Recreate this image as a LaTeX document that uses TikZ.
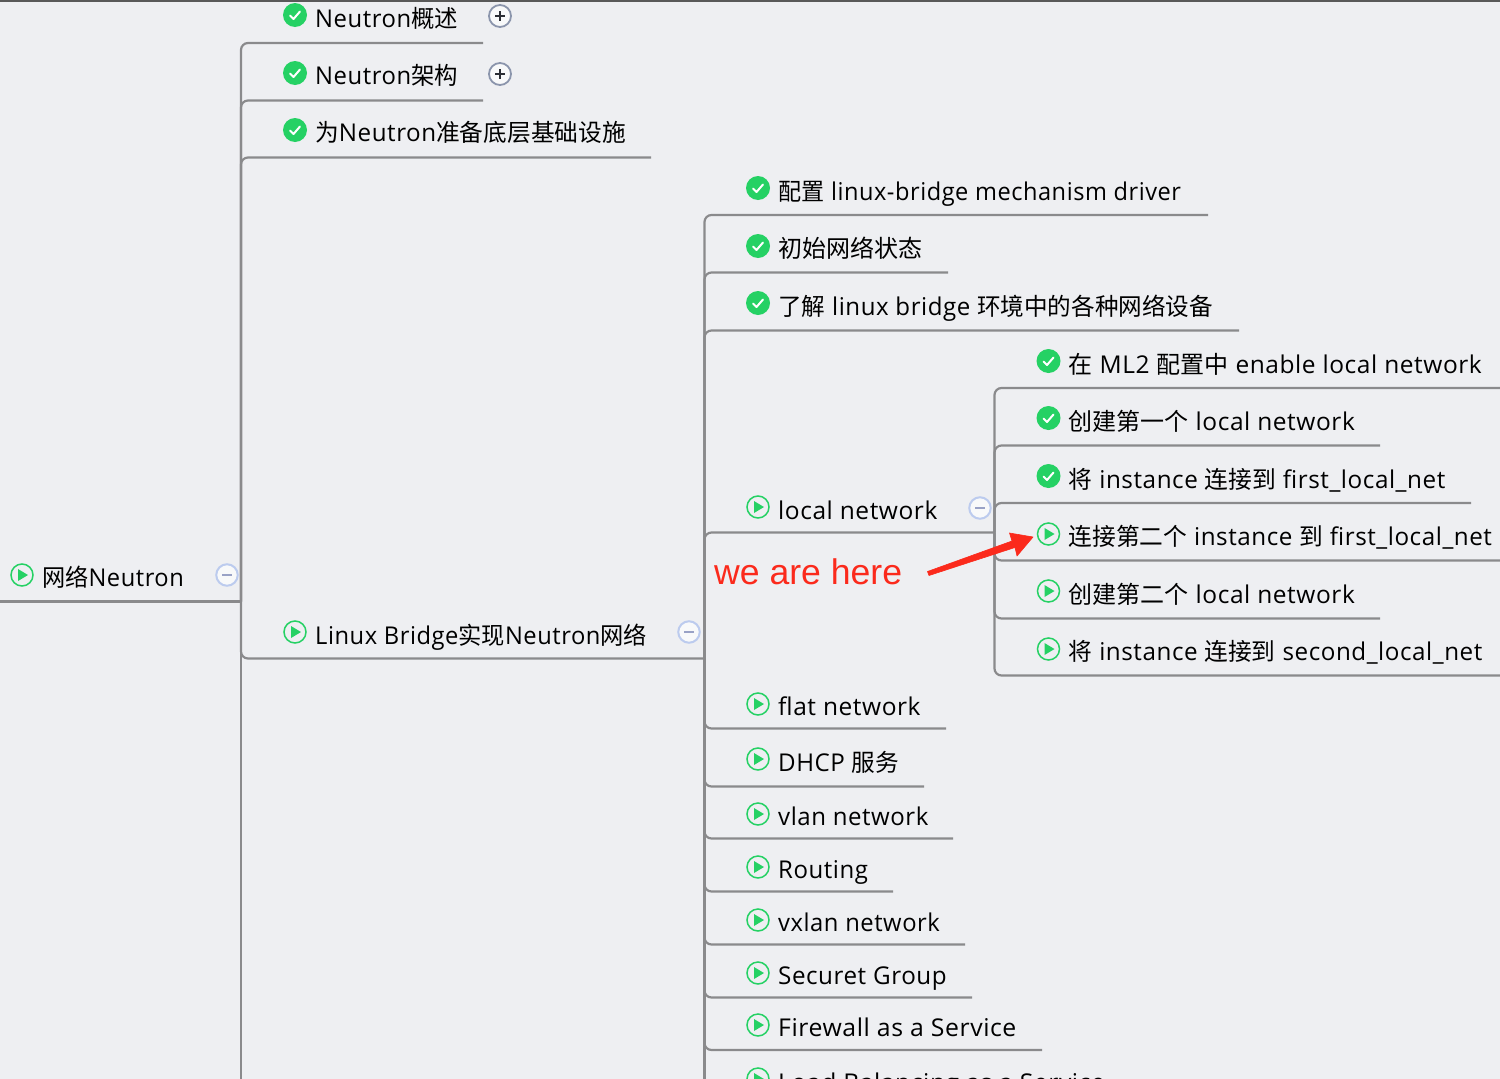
\documentclass[tikz,border=0pt]{standalone}
\usepackage{fontspec}
\setmainfont[LetterSpace=2.3]{Open Sans}
\newfontfamily\cjk[Scale=0.98]{Noto Sans CJK SC}
\newfontfamily\redfont{Liberation Sans}
\newcommand{\zh}[1]{{\cjk #1}}
\newcommand{\hs}[2]{\scalebox{#1}[1]{#2}}
\definecolor{bgc}{HTML}{EEEFF2}
\definecolor{linec}{HTML}{8A8A8C}
\definecolor{okc}{HTML}{25D164}
\definecolor{plusc}{HTML}{8B95AC}
\definecolor{minusc}{HTML}{BCCBEE}
\definecolor{minusd}{HTML}{99A2C6}
\definecolor{redc}{HTML}{FB2A1C}
\tikzset{
  x=1pt,y=-1pt,
  link/.style={draw=linec,line width=2.2pt,rounded corners=7pt},
  label/.style={anchor=base west,inner sep=0pt,font=\fontsize{24.5}{28}\selectfont,text=black},
  doneic/.style={circle,fill=okc,minimum size=24pt,inner sep=0pt},
  playic/.style={circle,draw=okc,line width=1.5pt,minimum size=22pt,inner sep=0pt},
  plusic/.style={circle,draw=plusc,fill=white!60!bgc,line width=1.8pt,minimum size=22pt,inner sep=0pt},
  minusic/.style={circle,draw=minusc,fill=white!60!bgc,line width=2pt,minimum size=21.5pt,inner sep=0pt},
}
\def\dy{15}
% #1 name, #2 icon x, #3 icon y, #4 line y, #5 line end x, #6 text, #7 kind
\newcommand{\row}[7]{%
  \node[#7ic] (#1-i) at (#2,#3) {};
  \ifnum\pdfstrcmp{#7}{done}=0
    \draw[white,line width=2pt,line cap=round,line join=round] ($(#1-i)+(-5,0.5)$) -- ($(#1-i)+(-1.5,4)$) -- ($(#1-i)+(5,-3.5)$);
  \else
    \fill[okc] ($(#1-i)+(-4,-6)$) -- ($(#1-i)+(6,0)$) -- ($(#1-i)+(-4,6)$) -- cycle;
  \fi
  \node[label] (#1) at (#2+20,#4-\dy) {#6};
  \coordinate (#1-e) at (#5,#4);
}
\newcommand{\plusmark}[3]{%
  \node[plusic] (#1) at (#2,#3) {};
  \draw[black!70!plusc,line width=1.8pt] ($(#1)+(-5,0)$) -- ($(#1)+(5,0)$) ($(#1)+(0,-5)$) -- ($(#1)+(0,5)$);
}
\newcommand{\minusmark}[3]{%
  \node[minusic] (#1) at (#2,#3) {};
  \draw[minusd,line width=2pt] ($(#1)+(-5,0)$) -- ($(#1)+(5,0)$);
}
\usetikzlibrary{calc}
\begin{document}
\begin{tikzpicture}
\path[use as bounding box] (0,0) rectangle (1500,1079);
\clip (0,0) rectangle (1500,1079);
\fill[bgc] (0,0) rectangle (1500,1079);
\fill[black!65] (0,0) rectangle (1500,1.5);

\coordinate (root-s) at (0,601.5);
\coordinate (root-e) at (241,601.5);
\coordinate (bot1) at (241,1079);
\coordinate (lb-p) at (704.5,658.5);
\coordinate (bot2) at (704.5,1079);
\coordinate (ln-p) at (994.5,532.5);

% root
\row{root}{22}{575}{601.5}{241}{\hs{.966}{\zh{网络}Neutron}}{play}
\minusmark{rootm}{227}{575}
\draw[link] (root-s) -- (root-e);
\draw[link] (root-e) -- (bot1);

% level 1
\def\dy{16}
\row{a1}{295}{15}{43}{483}{\hs{.973}{Neutron\zh{概述}}}{done}
\row{a2}{295}{73}{100.5}{483}{\hs{.973}{Neutron\zh{架构}}}{done}
\row{a3}{295}{130}{157.5}{651}{\hs{.987}{\zh{为}Neutron\zh{准备底层基础设施}}}{done}
\def\dy{14}
\row{lb}{295}{632}{658.5}{704}{\hs{.968}{Linux Bridge\zh{实现}Neutron\zh{网络}}}{play}
\plusmark{a1p}{500}{16}
\plusmark{a2p}{500}{74}
\minusmark{lbm}{689}{632}
\foreach \n in {a1,a2,a3,lb} \draw[link] (root-e) |- (\n-e);

% level 2
\def\dy{15}
\row{b1}{758}{188}{215}{1208}{\hs{.962}{\zh{配置} linux-bridge mechanism driver}}{done}
\row{b2}{758}{246}{272.5}{948}{\zh{初始网络状态}}{done}
\row{b3}{758}{303}{330.5}{1239}{\hs{.982}{\zh{了解} linux bridge \zh{环境中的各种网络设备}}}{done}
\def\dy{13}
\row{ln}{758}{507}{532.5}{994}{local network}{play}
\minusmark{lnm}{980}{508}
\row{b5}{758}{704}{728.5}{946}{flat network}{play}
\def\dy{15.5}
\row{b6}{758}{759}{786.5}{924}{\hs{.985}{DHCP \zh{服务}}}{play}
\def\dy{13}
\row{b7}{758}{814}{838.5}{953}{\hs{.98}{vlan network}}{play}
\row{b8}{758}{867}{891.5}{893}{\hs{.98}{Routing}}{play}
\row{b9}{758}{920}{944.5}{965}{\hs{.97}{vxlan network}}{play}
\row{b10}{758}{973}{997.5}{972}{\hs{.988}{Securet Group}}{play}
\def\dy{14}
\row{b11}{758}{1025}{1050}{1042}{\hs{1.012}{Firewall as a Service}}{play}
\row{b12}{758}{1079}{1105}{1160}{\hs{1.006}{Load Balancing as a Service}}{play}
\draw[link] (lb-p) -- (bot2);
\foreach \n in {b1,b2,b3,ln,b5,b6,b7,b8,b9,b10,b11,b12} \draw[link] (lb-p) |- (\n-e);

% level 3
\def\dy{15}
\row{c1}{1048.5}{361}{388}{1510}{\zh{在} ML2 \zh{配置中} enable local network}{done}
\row{c2}{1048.5}{418}{445.5}{1380}{\zh{创建第一个} local network}{done}
\row{c3}{1048.5}{476}{503}{1471}{\hs{.99}{\zh{将} instance \zh{连接到} first\_local\_net}}{done}
\row{c4}{1048.5}{534}{560.5}{1510}{\hs{.988}{\zh{连接第二个} instance \zh{到} first\_local\_net}}{play}
\row{c5}{1048.5}{591}{618.5}{1380}{\zh{创建第二个} local network}{play}
\row{c6}{1048.5}{649}{675.5}{1510}{\hs{.988}{\zh{将} instance \zh{连接到} second\_local\_net}}{play}
\foreach \n in {c1,c2,c3,c4,c5,c6} \draw[link] (ln-p) |- (\n-e);

% annotation
\node[anchor=base west,inner sep=0pt,text=redc,font=\redfont\fontsize{35.6}{42}\selectfont] (here) at (714,584) {we are here};
\coordinate (tail) at (927.5,571.5);
\coordinate (tip) at (1033,537);
\fill[redc,line join=round,draw=redc,line width=.6pt] (tail) -- (1012,541) -- (1009.5,533) -- (tip) -- (1017,556) -- (1015,547.5) -- (929,575.5) -- cycle;
\end{tikzpicture}
\end{document}
